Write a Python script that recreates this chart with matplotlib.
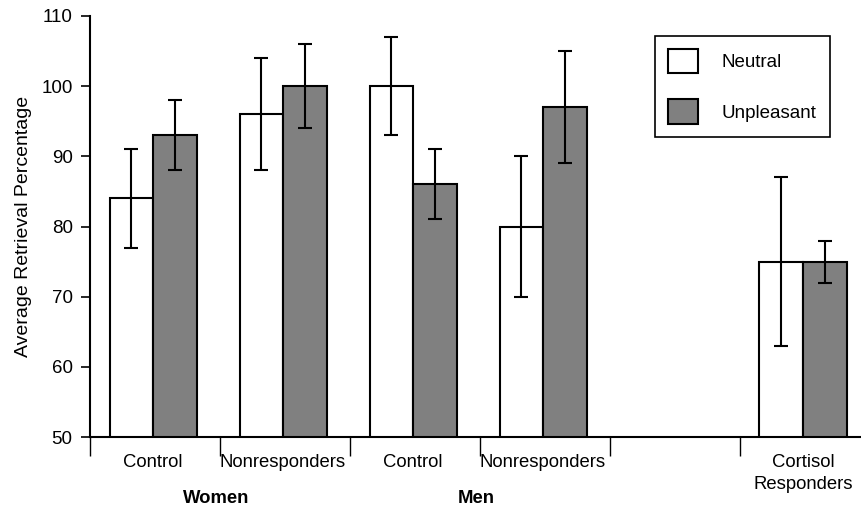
import numpy as np
import matplotlib
matplotlib.use("Agg")
import matplotlib.pyplot as plt
from matplotlib.transforms import blended_transform_factory

plt.rcParams['font.family'] = ['Liberation Sans', 'DejaVu Sans']

# data
groups = ["Control", "Nonresponders", "Control", "Nonresponders", "Cortisol\nResponders"]
slots = [0, 1, 2, 3, 5]          # column slot of each group along the axis
neutral = [84, 96, 100, 80, 75]
neutral_err = [7, 8, 7, 10, 12]
unpleasant = [93, 100, 86, 97, 75]
unpleasant_err = [5, 6, 5, 8, 3]
sexes = ["Women", "Men"]
sex_slots = [1, 3]

fig = plt.figure(figsize=(8.61, 5.08), dpi=100)
ax = fig.add_axes([90 / 861, 71 / 508, 771 / 861, 421 / 508])

width = 0.335
centers = np.array(slots) + 0.485
ekw = dict(elinewidth=1.5, capthick=1.5, ecolor='black')

b1 = ax.bar(centers - width / 2, neutral, width, color='white',
            edgecolor='black', linewidth=1.5, yerr=neutral_err, capsize=5,
            error_kw=ekw, label='Neutral')
b2 = ax.bar(centers + width / 2, unpleasant, width, color='#808080',
            edgecolor='black', linewidth=1.5, yerr=unpleasant_err, capsize=5,
            error_kw=ekw, label='Unpleasant')

ax.set_ylim(50, 110)
ax.set_xlim(0, 771 / 130)
ax.set_yticks(np.arange(50, 111, 10))
ax.tick_params(axis='y', direction='out', length=6.5, width=1.2, pad=6, labelsize=13.5)

# major ticks = dividers, minor ticks carry the group labels
ax.set_xticks(range(6))
ax.set_xticklabels([""] * 6)
ax.tick_params(axis='x', which='major', direction='out', length=14, width=1)
ax.set_xticks(centers, minor=True)
ax.set_xticklabels(groups, minor=True, fontsize=13.3, va='top', linespacing=1.35)
ax.tick_params(axis='x', which='minor', length=0, pad=12.5)

for s in ['top', 'right']:
    ax.spines[s].set_visible(False)
ax.spines['left'].set_linewidth(1.5)
ax.spines['bottom'].set_linewidth(1.5)

ax.set_ylabel("Average Retrieval Percentage", fontsize=14, labelpad=7)

tr = blended_transform_factory(ax.transData, ax.transAxes)
for name, s in zip(sexes, sex_slots):
    ax.text(s - 0.03, -0.145, name, transform=tr, ha='center', va='center',
            fontsize=13.3, fontweight='bold')

leg = ax.legend(handles=[b1, b2], loc='upper left',
                bbox_to_anchor=(655 / 861, 1 - 36 / 508),
                bbox_transform=fig.transFigure, borderaxespad=0,
                fancybox=False, framealpha=1, edgecolor='black', fontsize=13.5,
                handlelength=1.6, handleheight=1.6, labelspacing=1.4,
                handletextpad=1.25, borderpad=0.7)
leg.get_frame().set_linewidth(1.2)

fig.savefig("out.png", dpi=100)
